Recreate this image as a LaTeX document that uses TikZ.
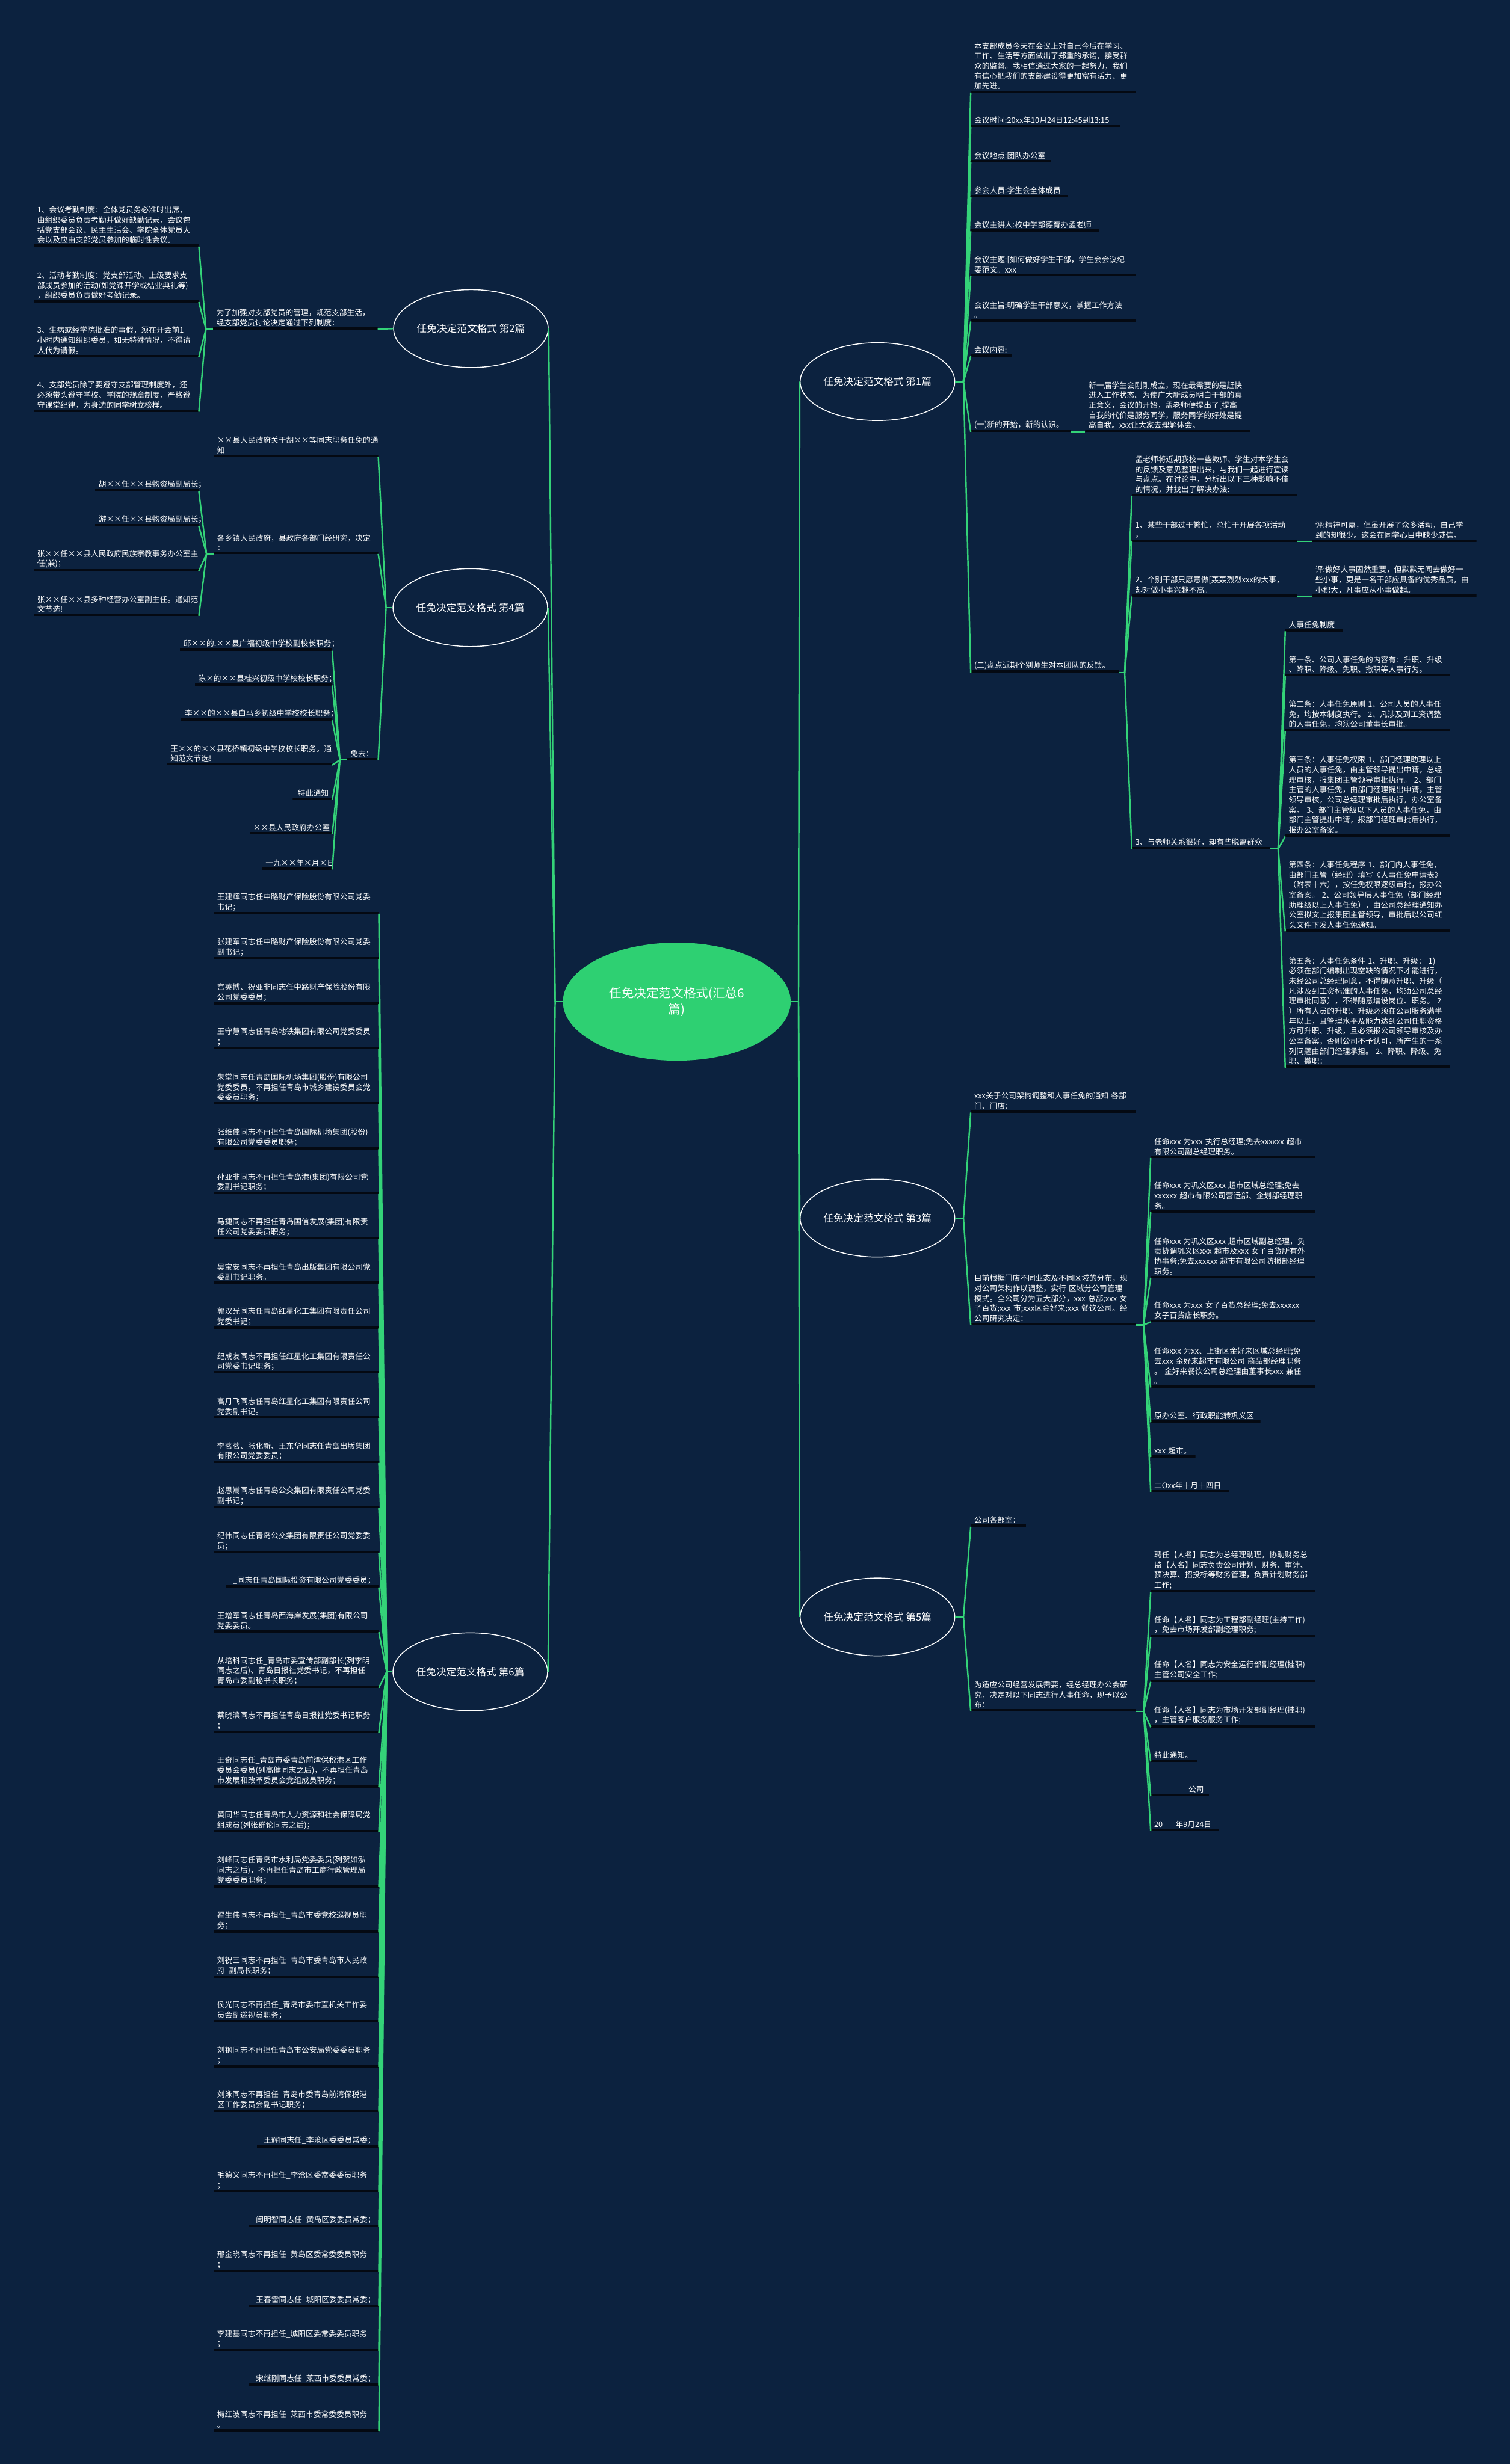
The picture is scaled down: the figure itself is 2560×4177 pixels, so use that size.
\documentclass[tikz,border=0pt]{standalone}
\usepackage{fontspec}
\setmainfont{Noto Sans CJK SC}
\usetikzlibrary{shapes.geometric}
\definecolor{bg}{RGB}{12,34,63}
\definecolor{gline}{RGB}{52,211,120}
\definecolor{cgreen}{RGB}{46,208,114}
\definecolor{ulc}{RGB}{4,9,18}
\begin{document}
\begin{tikzpicture}[x=1pt,y=-1pt,
  leaf/.style={text=white,font=\fontsize{13}{17}\selectfont,inner xsep=6pt,inner ysep=5pt,outer sep=0pt,
    path picture={\fill[ulc] ([yshift=-1pt]path picture bounding box.south west) rectangle ([yshift=3.5pt]path picture bounding box.south east);}},
  lf/.style={leaf,anchor=south east,align=left},
  lfr/.style={leaf,anchor=south east,align=right},
  rt/.style={leaf,anchor=south west,align=left},
  conn/.style={draw=gline,line width=2.5pt},
  br/.style={ellipse,draw=white,line width=1.5pt,fill=bg,text=white,font=\fontsize{17}{20}\selectfont,minimum width=262pt,minimum height=132pt,inner sep=0pt},
]
\path[use as bounding box] (0,0) rectangle (2560,4177);
\fill[bg] (0,0) rectangle (2560,4177);

% centre and branches
\node[ellipse,fill=cgreen,text=white,font=\fontsize{21}{27}\selectfont,minimum width=386pt,minimum height=200pt,inner sep=0pt,align=center] (c) at (1147,1698) {任免决定范文格式(汇总6\\篇)};
\node[br] (b1) at (1487,647) {任免决定范文格式 第1篇};
\node[br] (b2) at (798,557) {任免决定范文格式 第2篇};
\node[br] (b3) at (1487,2065) {任免决定范文格式 第3篇};
\node[br] (b4) at (797,1030) {任免决定范文格式 第4篇};
\node[br] (b5) at (1487,2741) {任免决定范文格式 第5篇};
\node[br] (b6) at (797,2834) {任免决定范文格式 第6篇};

% ---------- branch 2 ----------
\node[lf,text width=267pt] (m2) at (640,558) {为了加强对支部党员的管理，规范支部生活，\\经支部党员讨论决定通过下列制度：};
\node[lf,text width=268pt] (p1) at (337,418) {1、会议考勤制度：全体党员务必准时出席，\\由组织委员负责考勤并做好缺勤记录，会议包\\括党支部会议、民主生活会、学院全体党员大\\会以及应由支部党员参加的临时性会议。};
\node[lf,text width=268pt] (p2) at (337,512) {2、活动考勤制度：党支部活动、上级要求支\\部成员参加的活动(如党课开学或结业典礼等)\\，组织委员负责做好考勤记录。};
\node[lf,text width=268pt] (p3) at (337,605) {3、生病或经学院批准的事假，须在开会前1\\小时内通知组织委员，如无特殊情况，不得请\\人代为请假。};
\node[lf,text width=268pt] (p4) at (337,698) {4、支部党员除了要遵守支部管理制度外，还\\必须带头遵守学校、学院的规章制度，严格遵\\守课堂纪律，为身边的同学树立榜样。};

% ---------- branch 4 ----------
\node[lf,text width=267pt] (n4a) at (641,774) {××县人民政府关于胡××等同志职务任免的通\\知};
\node[lf,text width=267pt] (n4b) at (641,939) {各乡镇人民政府，县政府各部门经研究，决定\\：};
\node[lf,text width=41pt] (n4c) at (641,1288) {免去：};
\node[lfr,text width=164pt] (q1) at (337,833) {胡××任××县物资局副局长；};
\node[lfr,text width=164pt] (q2) at (337,892) {游××任××县物资局副局长；};
\node[lf,text width=268pt] (q3) at (337,968) {张××任××县人民政府民族宗教事务办公室主\\任(兼)；};
\node[lf,text width=268pt] (q4) at (337,1044) {张××任××县多种经营办公室副主任。通知范\\文节选!};
\node[lfr,text width=246pt] (r1) at (563,1103) {邱××的.××县广福初级中学校副校长职务；};
\node[lfr,text width=221pt] (r2) at (563,1162) {陈×的××县桂兴初级中学校校长职务；};
\node[lfr,text width=244pt] (r3) at (563,1221) {李××的××县白马乡初级中学校校长职务；};
\node[lf,text width=268pt] (r4) at (563,1297) {王××的××县花桥镇初级中学校校长职务。通\\知范文节选!};
\node[lfr,text width=55pt] (r5) at (563,1356) {特此通知};
\node[lfr,text width=128pt] (r6) at (563,1414) {××县人民政府办公室};
\node[lfr,text width=107pt] (r7) at (563,1474) {一九××年×月×日};

% ---------- branch 6 ----------
\node[lf,text width=268pt] (f1) at (642,1549) {王建辉同志任中路财产保险股份有限公司党委\\书记；};
\node[lf,text width=268pt] (f2) at (642,1626) {张建军同志任中路财产保险股份有限公司党委\\副书记；};
\node[lf,text width=268pt] (f3) at (642,1702) {宫英博、祝亚非同志任中路财产保险股份有限\\公司党委委员；};
\node[lf,text width=268pt] (f4) at (642,1778) {王守慧同志任青岛地铁集团有限公司党委委员\\；};
\node[lf,text width=268pt] (f5) at (642,1872) {朱堂同志任青岛国际机场集团(股份)有限公司\\党委委员，不再担任青岛市城乡建设委员会党\\委委员职务；};
\node[lf,text width=268pt] (f6) at (642,1948) {张维佳同志不再担任青岛国际机场集团(股份)\\有限公司党委委员职务；};
\node[lf,text width=268pt] (f7) at (642,2024) {孙亚非同志不再担任青岛港(集团)有限公司党\\委副书记职务；};
\node[lf,text width=268pt] (f8) at (642,2100) {马捷同志不再担任青岛国信发展(集团)有限责\\任公司党委委员职务；};
\node[lf,text width=268pt] (f9) at (642,2176) {吴宝安同志不再担任青岛出版集团有限公司党\\委副书记职务。};
\node[lf,text width=268pt] (f10) at (642,2252) {郭汉光同志任青岛红星化工集团有限责任公司\\党委书记；};
\node[lf,text width=268pt] (f11) at (642,2328) {纪成友同志不再担任红星化工集团有限责任公\\司党委书记职务；};
\node[lf,text width=268pt] (f12) at (642,2404) {高月飞同志任青岛红星化工集团有限责任公司\\党委副书记。};
\node[lf,text width=268pt] (f13) at (642,2480) {李茗茗、张化新、王东华同志任青岛出版集团\\有限公司党委委员；};
\node[lf,text width=268pt] (f14) at (642,2556) {赵思嵩同志任青岛公交集团有限责任公司党委\\副书记；};
\node[lf,text width=268pt] (f15) at (642,2632) {纪伟同志任青岛公交集团有限责任公司党委委\\员；};
\node[lfr,text width=248pt] (f16) at (642,2691) {\_同志任青岛国际投资有限公司党委委员；};
\node[lf,text width=268pt] (f17) at (642,2767) {王增军同志任青岛西海岸发展(集团)有限公司\\党委委员。};
\node[lf,text width=268pt] (f18) at (642,2861) {从培科同志任\_青岛市委宣传部副部长(列李明\\同志之后)、青岛日报社党委书记，不再担任\_\\青岛市委副秘书长职务；};
\node[lf,text width=268pt] (f19) at (642,2937) {蔡晓滨同志不再担任青岛日报社党委书记职务\\；};
\node[lf,text width=268pt] (f20) at (642,3030) {王奇同志任\_青岛市委青岛前湾保税港区工作\\委员会委员(列高健同志之后)，不再担任青岛\\市发展和改革委员会党组成员职务；};
\node[lf,text width=268pt] (f21) at (642,3106) {黄同华同志任青岛市人力资源和社会保障局党\\组成员(列张群论同志之后)；};
\node[lf,text width=268pt] (f22) at (642,3199) {刘峰同志任青岛市水利局党委委员(列贺如泓\\同志之后)，不再担任青岛市工商行政管理局\\党委委员职务；};
\node[lf,text width=268pt] (f23) at (642,3276) {翟生伟同志不再担任\_青岛市委党校巡视员职\\务；};
\node[lf,text width=268pt] (f24) at (642,3352) {刘祝三同志不再担任\_青岛市委青岛市人民政\\府\_副局长职务；};
\node[lf,text width=268pt] (f25) at (642,3428) {侯光同志不再担任\_青岛市委市直机关工作委\\员会副巡视员职务；};
\node[lf,text width=268pt] (f26) at (642,3504) {刘钢同志不再担任青岛市公安局党委委员职务\\；};
\node[lf,text width=268pt] (f27) at (642,3580) {刘泳同志不再担任\_青岛市委青岛前湾保税港\\区工作委员会副书记职务；};
\node[lfr,text width=195pt] (f28) at (642,3640) {王辉同志任\_李沧区委委员常委；};
\node[lf,text width=268pt] (f29) at (642,3716) {毛德义同志不再担任\_李沧区委常委委员职务\\；};
\node[lfr,text width=208pt] (f30) at (642,3775) {闫明智同志任\_黄岛区委委员常委；};
\node[lf,text width=268pt] (f31) at (642,3851) {邢金晓同志不再担任\_黄岛区委常委委员职务\\；};
\node[lfr,text width=208pt] (f32) at (642,3910) {王春雷同志任\_城阳区委委员常委；};
\node[lf,text width=268pt] (f33) at (642,3985) {李建基同志不再担任\_城阳区委常委委员职务\\；};
\node[lfr,text width=208pt] (f34) at (642,4044) {宋继刚同志任\_莱西市委委员常委；};
\node[lf,text width=268pt] (f35) at (642,4121) {梅红波同志不再担任\_莱西市委常委委员职务\\。};

% ---------- branch 1 ----------
\node[rt,text width=268pt] (a1) at (1645,157) {本支部成员今天在会议上对自己今后在学习、\\工作、生活等方面做出了郑重的承诺，接受群\\众的监督。我相信通过大家的一起努力，我们\\有信心把我们的支部建设得更加富有活力、更\\加先进。};
\node[rt,text width=241pt] (a2) at (1645,215) {会议时间:20xx年10月24日12:45到13:15};
\node[rt,text width=125pt] (a3) at (1645,275) {会议地点:团队办公室};
\node[rt,text width=152pt] (a4) at (1645,334) {参会人员:学生会全体成员};
\node[rt,text width=205pt] (a5) at (1645,392) {会议主讲人:校中学部德育办孟老师};
\node[rt,text width=268pt] (a6) at (1645,468) {会议主题:[如何做好学生干部，学生会会议纪\\要范文。xxx};
\node[rt,text width=268pt] (a7) at (1645,545) {会议主旨:明确学生干部意义，掌握工作方法\\。};
\node[rt,text width=58pt] (a8) at (1645,604) {会议内容:};
\node[rt,text width=158pt] (a9) at (1645,732) {(一)新的开始，新的认识。};
\node[rt,text width=267pt] (a9c) at (1839,732) {新一届学生会刚刚成立，现在最需要的是赶快\\进入工作状态。为使广大新成员明白干部的真\\正意义，会议的开始，孟老师便提出了[提高\\自我的代价是服务同学，服务同学的好处是提\\高自我。xxx让大家去理解体会。};
\node[rt,text width=239pt] (a10) at (1645,1140) {(二)盘点近期个别师生对本团队的反馈。};
\node[rt,text width=269pt] (k1) at (1918,841) {孟老师将近期我校一些教师、学生对本学生会\\的反馈及意见整理出来，与我们一起进行宣读\\与盘点。在讨论中，分析出以下三种影响不佳\\的情况，并找出了解决办法:};
\node[rt,text width=269pt] (k2) at (1918,918) {1、某些干部过于繁忙，总忙于开展各项活动\\，};
\node[rt,text width=267pt] (k2x) at (2223,918) {评:精神可嘉，但虽开展了众多活动，自己学\\到的却很少。这会在同学心目中缺少威信。};
\node[rt,text width=269pt] (k3) at (1918,1011) {2、个别干部只愿意做[轰轰烈烈xxx的大事，\\却对做小事兴趣不高。};
\node[rt,text width=267pt] (k3x) at (2223,1011) {评:做好大事固然重要，但默默无闻去做好一\\些小事，更是一名干部应具备的优秀品质，由\\小积大，凡事应从小事做起。};
\node[rt,text width=222pt] (k4) at (1918,1439) {3、与老师关系很好，却有些脱离群众};
\node[rt,text width=85pt] (g1) at (2178,1070) {人事任免制度};
\node[rt,text width=268pt] (g2) at (2178,1146) {第一条、公司人事任免的内容有：升职、升级\\、降职、降级、免职、撤职等人事行为。};
\node[rt,text width=268pt] (g3) at (2178,1239) {第二条：人事任免原则 1、公司人员的人事任\\免，均按本制度执行。 2、凡涉及到工资调整\\的人事任免，均须公司董事长审批。};
\node[rt,text width=268pt] (g4) at (2178,1418) {第三条：人事任免权限 1、部门经理助理以上\\人员的人事任免，由主管领导提出申请，总经\\理审核，报集团主管领导审批执行。 2、部门\\主管的人事任免，由部门经理提出申请，主管\\领导审核，公司总经理审批后执行，办公室备\\案。 3、部门主管级以下人员的人事任免，由\\部门主管提出申请，报部门经理审批后执行，\\报办公室备案。};
\node[rt,text width=268pt] (g5) at (2178,1579) {第四条：人事任免程序 1、部门内人事任免，\\由部门主管（经理）填写《人事任免申请表》\\（附表十六），按任免权限逐级审批，报办公\\室备案。 2、公司领导层人事任免（部门经理\\助理级以上人事任免），由公司总经理通知办\\公室拟文上报集团主管领导，审批后以公司红\\头文件下发人事任免通知。};
\node[rt,text width=268pt] (g6) at (2178,1810) {第五条：人事任免条件 1、升职、升级： 1)\\必须在部门编制出现空缺的情况下才能进行，\\未经公司总经理同意，不得随意升职、升级（\\凡涉及到工资标准的人事任免，均须公司总经\\理审批同意），不得随意增设岗位、职务。 2\\）所有人员的升职、升级必须在公司服务满半\\年以上，且管理水平及能力达到公司任职资格\\方可升职、升级，且必须报公司领导审核及办\\公室备案，否则公司不予认可，所产生的一系\\列问题由部门经理承担。 2、降职、降级、免\\职、撤职：};

% ---------- branch 3 ----------
\node[rt,text width=268pt] (d1) at (1645,1886) {xxx关于公司架构调整和人事任免的通知 各部\\门、门店：};
\node[rt,text width=268pt] (d2) at (1645,2246) {目前根据门店不同业态及不同区域的分布，现\\对公司架构作以调整，实行 区域分公司管理\\模式。全公司分为五大部分，xxx 总部;xxx 女\\子百货;xxx 市;xxx区金好来;xxx 餐饮公司。经\\公司研究决定：};
\node[rt,text width=266pt] (h1) at (1950,1963) {任命xxx 为xxx 执行总经理;免去xxxxxx 超市\\有限公司副总经理职务。};
\node[rt,text width=266pt] (h2) at (1950,2055) {任命xxx 为巩义区xxx 超市区域总经理;免去\\xxxxxx 超市有限公司营运部、企划部经理职\\务。};
\node[rt,text width=266pt] (h3) at (1950,2166) {任命xxx 为巩义区xxx 超市区域副总经理，负\\责协调巩义区xxx 超市及xxx 女子百货所有外\\协事务;免去xxxxxx 超市有限公司防损部经理\\职务。};
\node[rt,text width=266pt] (h4) at (1950,2241) {任命xxx 为xxx 女子百货总经理;免去xxxxxx\\女子百货店长职务。};
\node[rt,text width=266pt] (h5) at (1950,2352) {任命xxx 为xx、上街区金好来区域总经理;免\\去xxx 金好来超市有限公司 商品部经理职务\\。 金好来餐饮公司总经理由董事长xxx 兼任\\。};
\node[rt,text width=174pt] (h6) at (1950,2411) {原办公室、行政职能转巩义区};
\node[rt,text width=64pt] (h7) at (1950,2470) {xxx 超市。};
\node[rt,text width=121pt] (h8) at (1950,2529) {二Oxx年十月十四日};

% ---------- branch 5 ----------
\node[rt,text width=82pt] (e1) at (1645,2588) {公司各部室：};
\node[rt,text width=268pt] (e2) at (1645,2901) {为适应公司经营发展需要，经总经理办公会研\\究，决定对以下同志进行人事任命，现予以公\\布：};
\node[rt,text width=266pt] (s1) at (1950,2699) {聘任【人名】同志为总经理助理，协助财务总\\监【人名】同志负责公司计划、财务、审计、\\预决算、招投标等财务管理，负责计划财务部\\工作;};
\node[rt,text width=266pt] (s2) at (1950,2775) {任命【人名】同志为工程部副经理(主持工作)\\，免去市场开发部副经理职务;};
\node[rt,text width=266pt] (s3) at (1950,2851) {任命【人名】同志为安全运行部副经理(挂职)\\主管公司安全工作;};
\node[rt,text width=266pt] (s4) at (1950,2928) {任命【人名】同志为市场开发部副经理(挂职)\\，主管客户服务服务工作;};
\node[rt,text width=67pt] (s5) at (1950,2986) {特此通知。};
\node[rt,text width=87pt] (s6) at (1950,3045) {\_\_\_\_\_\_\_\_公司};
\node[rt,text width=103pt] (s7) at (1950,3104) {20\_\_\_年9月24日};

% ---------- connectors ----------
\coordinate (cL) at ([xshift=-13pt]c.west);
\coordinate (cR) at ([xshift=13pt]c.east);
\draw[conn] (c.west) -- (cL);
\draw[conn] (c.east) -- (cR);
\foreach \b in {b2,b4,b6} \draw[conn] (cL) -- (\b.east);
\foreach \b in {b1,b3,b5} \draw[conn] (cR) -- (\b.west);

\draw[conn] (b2.west) -- (m2.south east);
\coordinate (m2f) at ([xshift=-12pt]m2.south west);
\draw[conn] (m2.south west) -- (m2f);
\foreach \n in {p1,p2,p3,p4} \draw[conn] (m2f) -- (\n.south east);

\coordinate (b4f) at ([xshift=-11pt]b4.west);
\draw[conn] (b4.west) -- (b4f);
\foreach \n in {n4a,n4b,n4c} \draw[conn] (b4f) -- (\n.south east);
\coordinate (n4bf) at ([xshift=-12pt]n4b.south west);
\draw[conn] (n4b.south west) -- (n4bf);
\foreach \n in {q1,q2,q3,q4} \draw[conn] (n4bf) -- (\n.south east);
\coordinate (n4cf) at ([xshift=-12pt]n4c.south west);
\draw[conn] (n4c.south west) -- (n4cf);
\foreach \n in {r1,r2,r3,r4,r5,r6,r7} \draw[conn] (n4cf) -- (\n.south east);

\coordinate (b6f) at ([xshift=-10pt]b6.west);
\draw[conn] (b6.west) -- (b6f);
\foreach \i in {1,...,35} \draw[conn] (b6f) -- (f\i.south east);

\coordinate (b1f) at ([xshift=14pt]b1.east);
\draw[conn] (b1.east) -- (b1f);
\foreach \n in {a1,a2,a3,a4,a5,a6,a7,a8,a9,a10} \draw[conn] (b1f) -- (\n.south west);
\draw[conn] (a9.south east) -- (a9c.south west);
\coordinate (a10f) at ([xshift=10pt]a10.south east);
\draw[conn] (a10.south east) -- (a10f);
\foreach \n in {k1,k2,k3,k4} \draw[conn] (a10f) -- (\n.south west);
\draw[conn] (k2.south east) -- (k2x.south west);
\draw[conn] (k3.south east) -- (k3x.south west);
\coordinate (k4f) at ([xshift=14pt]k4.south east);
\draw[conn] (k4.south east) -- (k4f);
\foreach \n in {g1,g2,g3,g4,g5,g6} \draw[conn] (k4f) -- (\n.south west);

\coordinate (b3f) at ([xshift=14pt]b3.east);
\draw[conn] (b3.east) -- (b3f);
\foreach \n in {d1,d2} \draw[conn] (b3f) -- (\n.south west);
\coordinate (d2f) at ([xshift=13pt]d2.south east);
\draw[conn] (d2.south east) -- (d2f);
\foreach \n in {h1,h2,h3,h4,h5,h6,h7,h8} \draw[conn] (d2f) -- (\n.south west);

\coordinate (b5f) at ([xshift=14pt]b5.east);
\draw[conn] (b5.east) -- (b5f);
\foreach \n in {e1,e2} \draw[conn] (b5f) -- (\n.south west);
\coordinate (e2f) at ([xshift=13pt]e2.south east);
\draw[conn] (e2.south east) -- (e2f);
\foreach \n in {s1,s2,s3,s4,s5,s6,s7} \draw[conn] (e2f) -- (\n.south west);
\end{tikzpicture}
\end{document}
